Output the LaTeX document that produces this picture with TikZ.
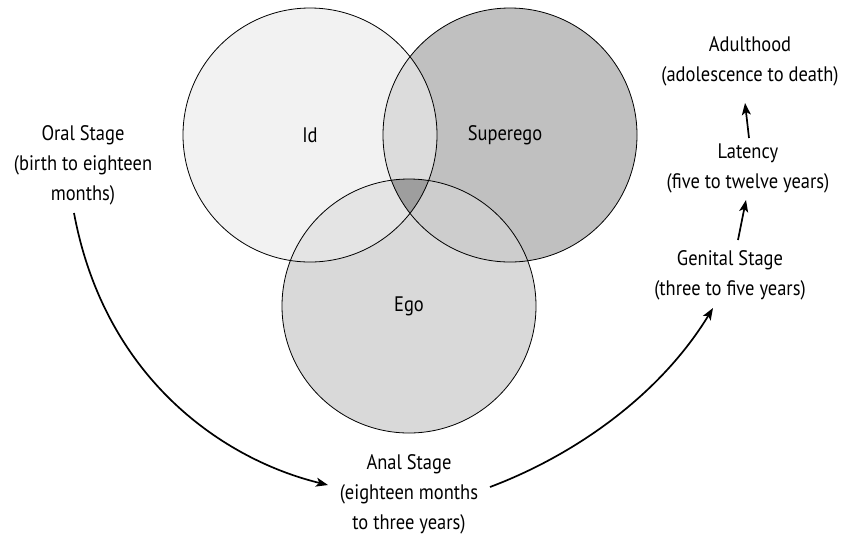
\documentclass[tikz,border=0pt]{standalone}
\usepackage{fontspec}
\setmainfont[FakeStretch=0.88]{PT Sans}
\usetikzlibrary{arrows.meta}
\definecolor{idc}{HTML}{F2F2F2}
\definecolor{supc}{HTML}{C0C0C0}
\definecolor{egoc}{HTML}{D9D9D9}
\definecolor{isc}{HTML}{DCDCDC}
\definecolor{iec}{HTML}{E4E4E4}
\definecolor{sec}{HTML}{CDCDCD}
\definecolor{allc}{HTML}{9E9E9E}
\tikzset{
  venn/.style={circle, draw=black, line width=0.8pt, minimum size=254pt, inner sep=0pt, outer sep=0pt, font=\fontsize{21}{24}\selectfont},
  lbl/.style={align=center, font=\fontsize{21}{30}\selectfont, inner sep=2pt},
  arr/.style={line width=1.7pt, -{Stealth[length=12pt,width=9pt,inset=3pt]}}
}
\begin{document}
\begin{tikzpicture}[x=1pt,y=-1pt]
\useasboundingbox (0,0) rectangle (851,539);
\coordinate (I) at (310,135);
\coordinate (S) at (510,135);
\coordinate (E) at (409,306);
\fill[idc] (I) circle[radius=127pt];
\fill[supc] (S) circle[radius=127pt];
\fill[egoc] (E) circle[radius=127pt];
\begin{scope}
  \clip (I) circle[radius=127pt];
  \fill[isc] (S) circle[radius=127pt];
  \fill[iec] (E) circle[radius=127pt];
\end{scope}
\begin{scope}
  \clip (S) circle[radius=127pt];
  \fill[sec] (E) circle[radius=127pt];
\end{scope}
\begin{scope}
  \clip (I) circle[radius=127pt];
  \clip (S) circle[radius=127pt];
  \fill[allc] (E) circle[radius=127pt];
\end{scope}
\node[venn] (id) at (I) {Id};
\node[venn] (sup) at (S) {\hspace*{-10pt}Superego};
\node[venn] (ego) at (E) {Ego};

\node[lbl] (adult) at (750,61) {Adulthood\\(adolescence to death)};
\node[lbl] (lat) at (748,168) {Latency\\(five to twelve years)};
\node[lbl] (gen) at (730,275) {Genital Stage\\(three to five years)};
\node[lbl] (oral) at (83,165) {Oral Stage\\(birth to eighteen\\months)};
\node[lbl] (anal) at (409,494) {Anal Stage\\(eighteen months\\to three years)};

\coordinate (a1) at (749,138);
\coordinate (a2) at (745,103);
\coordinate (g1) at (738,240);
\coordinate (g2) at (746,200);
\draw[arr] (a1) -- (a2);
\draw[arr] (g1) -- (g2);
\coordinate (o1) at (74,213);
\coordinate (o2) at (328,485);
\coordinate (r1) at (490,487);
\coordinate (r2) at (713,308);
\draw[arr] (o1) .. controls (105,380) and (225,460) .. (o2);
\draw[arr] (r1) .. controls (575,455) and (660,395) .. (r2);
\end{tikzpicture}
\end{document}
